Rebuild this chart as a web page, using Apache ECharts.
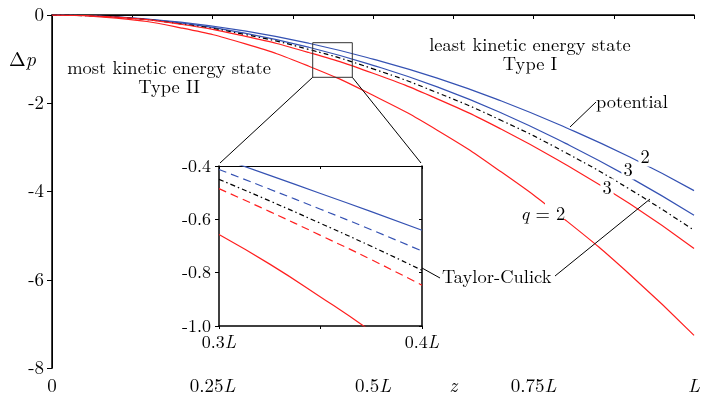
<!DOCTYPE html>
<html>
<head>
<meta charset="utf-8">
<script src="https://cdn.jsdelivr.net/npm/echarts@6/dist/echarts.min.js"></script>
<style>html,body{margin:0;padding:0;background:#fff}#c{width:703px;height:398px}</style>
</head>
<body>
<div id="c"></div>
<script>
// ---- data ----
var zMain = [0, 0.1, 0.2, 0.3, 0.4, 0.5, 0.6, 0.7, 0.8, 0.9, 1.0];
var typeI_q2  = [0, -0.04, -0.16, -0.36, -0.64, -1.00, -1.43, -1.95, -2.55, -3.22, -3.98];
var typeI_q3  = [0, -0.045, -0.18, -0.41, -0.73, -1.14, -1.63, -2.22, -2.91, -3.68, -4.54];
var taylorCulick = [0, -0.05, -0.20, -0.44, -0.78, -1.22, -1.76, -2.39, -3.12, -3.95, -4.88];
var typeII_q3 = [0, -0.05, -0.21, -0.48, -0.85, -1.32, -1.90, -2.59, -3.39, -4.28, -5.29];
var typeII_q2 = [0, -0.07, -0.29, -0.65, -1.16, -1.82, -2.61, -3.56, -4.65, -5.88, -7.26];

var zInset = [0.3, 0.325, 0.35, 0.375, 0.4];
var insI_q2  = [-0.368, -0.435, -0.503, -0.571, -0.641];
var insI_q3  = [-0.413, -0.487, -0.562, -0.639, -0.719];
var insTC    = [-0.450, -0.531, -0.615, -0.701, -0.791];
var insII_q3 = [-0.485, -0.571, -0.660, -0.751, -0.847];
var insII_q2 = [-0.657, -0.768, -0.891, -1.020, -1.160];

var mainYTicks = [0, -2, -4, -6, -8];

// ---- chart ----
var FONT = 'Latin Modern Roman';
var BLUE = '#3552b3';
var RED = '#ff1f1f';
var ANN = 18.5;
function pairs(xs, ys) { return xs.map(function (x, i) { return [x, ys[i]]; }); }

var chart = echarts.init(document.getElementById('c'), null, {renderer: 'canvas'});

function mainXFmt(v) {
  var k = Math.round(v * 1000) / 1000;
  if (k === 0) return '{n|0}';
  if (k === 1) return '{i|L}';
  if (k === 0.625) return '{i|z}';
  if (k === 0.25 || k === 0.5 || k === 0.75) return '{n|' + k + '}{i|L}';
  return '';
}
function insetXFmt(v) {
  var k = Math.round(v * 1000) / 1000;
  if (k === 0.3 || k === 0.4) return '{n|' + k + '}{i|L}';
  return '';
}
var richLbl = {
  n: {fontFamily: FONT, fontSize: 19, color: '#000'},
  i: {fontFamily: FONT, fontSize: 19, fontStyle: 'italic', color: '#000'}
};
var richIns = {
  n: {fontFamily: FONT, fontSize: 18, color: '#000'},
  i: {fontFamily: FONT, fontSize: 18, fontStyle: 'italic', color: '#000'}
};

function mkSeries(name, xs, ys, color, type, xi, yi) {
  return {
    name: name, type: 'line', xAxisIndex: xi, yAxisIndex: yi,
    data: pairs(xs, ys), showSymbol: false, smooth: true,
    clip: true, silent: true, z: 10,
    lineStyle: {color: color, width: 1.2, type: type}
  };
}
var DASHDOT = [5, 3, 1.5, 3];
var DASH = [8, 5];

function txt(x, y, s, align, size, extra) {
  var st = {text: s, fontFamily: FONT, fontSize: size || ANN, fill: '#000', align: align || 'center', verticalAlign: 'middle'};
  if (extra) for (var k in extra) st[k] = extra[k];
  return {type: 'text', z: 100, x: x, y: y, style: st};
}
function seg(x1, y1, x2, y2) {
  return {type: 'line', z: 100, shape: {x1: x1, y1: y1, x2: x2, y2: y2}, style: {stroke: '#000', lineWidth: 1}};
}

var option = {
  animation: false,
  backgroundColor: '#fff',
  grid: [
    {left: 52, right: 1, top: 15, bottom: 30},
    {left: 219, top: 166, width: 203, height: 160}
  ],
  xAxis: [
    {type: 'value', gridIndex: 0, min: 0, max: 1, interval: 0.125, position: 'bottom',
     axisLine: {lineStyle: {color: '#000', width: 1.5}},
     axisTick: {show: true, inside: false, length: 4, lineStyle: {color: '#000', width: 1}},
     axisLabel: {formatter: mainXFmt, rich: richLbl, margin: 9, showMaxLabel: true},
     splitLine: {show: false}},
    {type: 'value', gridIndex: 0, min: 0, max: 1, interval: 0.125, position: 'top',
     axisLine: {lineStyle: {color: '#000', width: 1}},
     axisTick: {show: true, inside: true, length: 3, lineStyle: {color: '#000'}},
     axisLabel: {show: false}, splitLine: {show: false}},
    {type: 'value', gridIndex: 1, min: 0.3, max: 0.4, interval: 0.05, position: 'bottom',
     axisLine: {lineStyle: {color: '#000', width: 1.5}},
     axisTick: {show: true, inside: false, length: 3, lineStyle: {color: '#000'}},
     axisLabel: {formatter: insetXFmt, rich: richIns, margin: 7, showMaxLabel: true, showMinLabel: true},
     splitLine: {show: false}},
    {type: 'value', gridIndex: 1, min: 0.3, max: 0.4, interval: 0.05, position: 'top',
     axisLine: {lineStyle: {color: '#000', width: 1}},
     axisTick: {show: true, inside: true, length: 3, lineStyle: {color: '#000'}},
     axisLabel: {show: false}, splitLine: {show: false}}
  ],
  yAxis: [
    {type: 'value', gridIndex: 0, min: -8, max: 0, interval: 2, position: 'left',
     axisLine: {lineStyle: {color: '#000', width: 1.5}},
     axisTick: {show: true, inside: false, length: 5, lineStyle: {color: '#000'}},
     axisLabel: {color: '#000', fontFamily: FONT, fontSize: 19, margin: 8,
       formatter: function (v) { return mainYTicks.indexOf(v) >= 0 ? String(v) : ''; }},
     splitLine: {show: false}},
    {type: 'value', gridIndex: 0, min: -8, max: 0, interval: 2, position: 'right',
     axisLine: {lineStyle: {color: '#000', width: 1}},
     axisTick: {show: false}, axisLabel: {show: false}, splitLine: {show: false}},
    {type: 'value', gridIndex: 1, min: -1, max: -0.4, interval: 0.2, position: 'left',
     axisLine: {lineStyle: {color: '#000', width: 1.5}},
     axisTick: {show: true, inside: false, length: 4, lineStyle: {color: '#000'}},
     axisLabel: {color: '#000', fontFamily: FONT, fontSize: 18, margin: 8,
       formatter: function (v) { return v.toFixed(1); }},
     splitLine: {show: false}},
    {type: 'value', gridIndex: 1, min: -1, max: -0.4, interval: 0.2, position: 'right',
     axisLine: {lineStyle: {color: '#000', width: 1.5}},
     axisTick: {show: true, inside: true, length: 3, lineStyle: {color: '#000'}},
     axisLabel: {show: false}, splitLine: {show: false}}
  ],
  series: [
    mkSeries('Type I q=2', zMain, typeI_q2, BLUE, 'solid', 0, 0),
    mkSeries('Type I q=3', zMain, typeI_q3, BLUE, 'solid', 0, 0),
    mkSeries('Taylor-Culick', zMain, taylorCulick, '#000', DASHDOT, 0, 0),
    mkSeries('Type II q=3', zMain, typeII_q3, RED, 'solid', 0, 0),
    mkSeries('Type II q=2', zMain, typeII_q2, RED, 'solid', 0, 0),
    mkSeries('in I q=2', zInset, insI_q2, BLUE, 'solid', 2, 2),
    mkSeries('in I q=3', zInset, insI_q3, BLUE, DASH, 2, 2),
    mkSeries('in TC', zInset, insTC, '#000', DASHDOT, 2, 2),
    mkSeries('in II q=3', zInset, insII_q3, RED, DASH, 2, 2),
    mkSeries('in II q=2', zInset, insII_q2, RED, 'solid', 2, 2)
  ],
  graphic: [
    {type: 'text', z: 100, x: 9, y: 60, style: {text: '{a|Δ}{b|p}', verticalAlign: 'middle', rich: {
      a: {fontFamily: FONT, fontSize: 20, fill: '#000'},
      b: {fontFamily: FONT, fontSize: 20, fontStyle: 'italic', fill: '#000'}}}},
    txt(169, 68, 'most kinetic energy state'),
    txt(169, 87, 'Type II'),
    txt(530, 45, 'least kinetic energy state'),
    txt(530, 64, 'Type I'),
    txt(596, 102, 'potential', 'left'),
    seg(596, 102, 570, 127),
    txt(645, 157, '2', 'center', ANN, {backgroundColor: '#fff', padding: [0, 2]}),
    txt(628, 170, '3', 'center', ANN, {backgroundColor: '#fff', padding: [0, 2]}),
    txt(607, 188, '3', 'center', ANN, {backgroundColor: '#fff', padding: [0, 2]}),
    {type: 'rect', z: 99, shape: {x: 545, y: 201, width: 26, height: 18}, style: {fill: '#fff'}},
    {type: 'text', z: 100, x: 543, y: 214, style: {text: '{q|q} = 2', align: 'center', verticalAlign: 'middle',
      fontFamily: FONT, fontSize: 18.5, fill: '#000', rich: {q: {fontFamily: FONT, fontSize: 18.5, fontStyle: 'italic', fill: '#000'}}}},
    txt(442, 277, 'Taylor-Culick', 'left'),
    seg(422, 268, 440, 278),
    seg(555, 276, 650, 199),
    {type: 'rect', z: 100, shape: {x: 312.7, y: 42.7, width: 39.6, height: 34.6}, style: {fill: 'none', stroke: '#333', lineWidth: 1}},
    seg(312.7, 77.3, 220, 163),
    seg(352.3, 77.3, 421, 163)
  ]
};
chart.setOption(option);
</script>
</body>
</html>
